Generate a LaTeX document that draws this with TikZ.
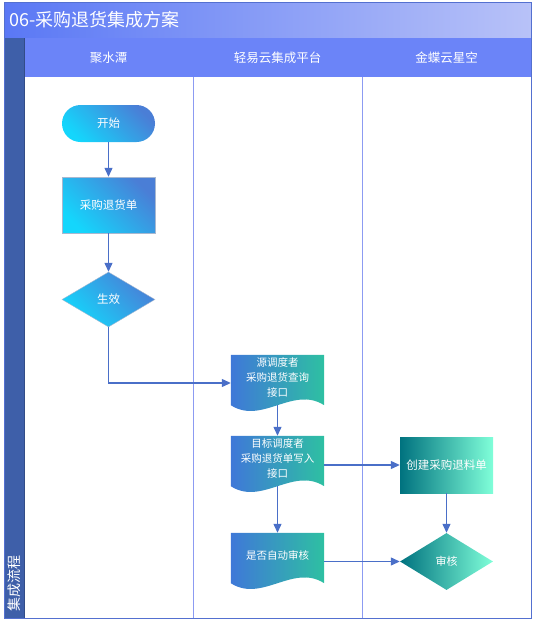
\documentclass[tikz,border=0pt]{standalone}
\usepackage{fontspec}
\setmainfont{Noto Sans CJK SC}
\usetikzlibrary{shapes.geometric, arrows.meta, backgrounds}

\definecolor{titlel}{HTML}{5A78F5}
\definecolor{titler}{HTML}{B8C2F8}
\definecolor{headbg}{HTML}{6B84F8}
\definecolor{sidebar}{HTML}{3E5FA9}
\definecolor{laneline}{HTML}{8C9BF2}
\definecolor{framec}{HTML}{5470D0}
\definecolor{flowc}{HTML}{4A6FC8}
\definecolor{jstl}{HTML}{14D6FC}
\definecolor{jstr}{HTML}{4A7ED6}
\definecolor{jstedge}{HTML}{A8B8D0}
\definecolor{docl}{HTML}{3F78D8}
\definecolor{docm}{HTML}{6B85E2}
\definecolor{docr}{HTML}{2EC0A2}
\definecolor{kdl}{HTML}{00727F}
\definecolor{kdr}{HTML}{80FFD9}

\begin{document}
\begin{tikzpicture}[x=1pt, y=-1pt, font=\fontsize{11.5}{14}\selectfont,
  flow/.style={draw=flowc, line width=1.2pt, -{Triangle[length=9pt,width=8pt]}},
  lane/.style={draw=laneline, line width=1pt},
  lanehead/.style={text=white, font=\fontsize{12.5}{14}\selectfont},
  jst/.style={text=white, minimum width=93pt, inner sep=0pt,
    left color=jstl, right color=jstr, shading angle=135},
  doc/.style={text=white, align=center, minimum width=93pt, minimum height=44pt,
    inner sep=0pt, font=\fontsize{10.5}{15}\selectfont},
  kd/.style={text=white, minimum width=93pt, inner sep=0pt,
    left color=kdl, right color=kdr}]

  \useasboundingbox (0,0) rectangle (533,624);

  % title bar, side bar and lane headers
  \shade[left color=titlel, right color=titler] (4,2) rectangle (531,38);
  \fill[sidebar] (4,38) rectangle (24,618);
  \fill[headbg] (24,38) rectangle (531,77);
  \node[anchor=west, text=white, font=\fontsize{18}{20}\selectfont] (title) at (6,20) {06-采购退货集成方案};
  \node[rotate=90, anchor=west, text=white, font=\fontsize{14}{14}\selectfont] (side) at (14,615) {集成流程};
  \foreach \x/\n/\t in {108.5/jst/聚水潭, 277.5/qyy/轻易云集成平台, 446.5/kd/金蝶云星空}
    { \node[lanehead] (head-\n) at (\x,57.5) {\t}; }
  \foreach \x in {193,362}
    { \draw[lane] (\x,77) -- (\x,618); }
  \draw[lane] (24,618) -- (531,618);
  \draw[framec] (4,2) rectangle (531,618);
  \draw[sidebar!80!black] (24,38) -- (24,618);

  % 聚水潭
  \node[jst, rounded corners=18.5pt, minimum height=37pt] (start) at (108.5,123.5) {开始};
  \node[jst, draw=jstedge, minimum height=56pt] (bill) at (108.5,205) {采购退货单};
  \node[jst, diamond, draw=jstedge, minimum height=55pt] (eff) at (108.5,299.5) {生效};

  % 轻易云
  \node[doc] (src) at (277.5,377) {源调度者\\采购退货查询\\接口};
  \node[doc] (dst) at (277.5,458) {目标调度者\\采购退货单写入\\接口};
  \node[doc] (chk) at (277.5,555) {是否自动审核};
  \begin{scope}[on background layer]
    \foreach \n in {src,dst,chk}
      \shade[left color=docl, middle color=docm, right color=docr]
        (\n.north west) -- (\n.north east) -- ([yshift=-6pt]\n.south east)
        .. controls ([xshift=-31pt,yshift=14pt]\n.south east) and ([xshift=31pt,yshift=-26pt]\n.south west)
        .. ([yshift=-6pt]\n.south west) -- cycle;
  \end{scope}

  % 金蝶
  \node[kd, minimum height=56pt] (cre) at (446.5,465) {创建采购退料单};
  \node[kd, diamond, minimum height=57pt, font=\fontsize{11}{13}\selectfont] (aud) at (446.5,561.5) {审核};

  \draw[flow] (start) -- (bill);
  \draw[flow] (bill) -- (eff);
  \draw[flow] (eff) |- ([yshift=-6pt]src.west);
  \draw[flow] ([yshift=-6pt]src.south) -- (dst);
  \draw[flow] ([yshift=-6pt]dst.south) -- (chk);
  \draw[flow] (dst.east |- cre) -- (cre);
  \draw[flow] (cre) -- (aud);
  \draw[flow] (chk.east |- aud) -- (aud);
\end{tikzpicture}
\end{document}
